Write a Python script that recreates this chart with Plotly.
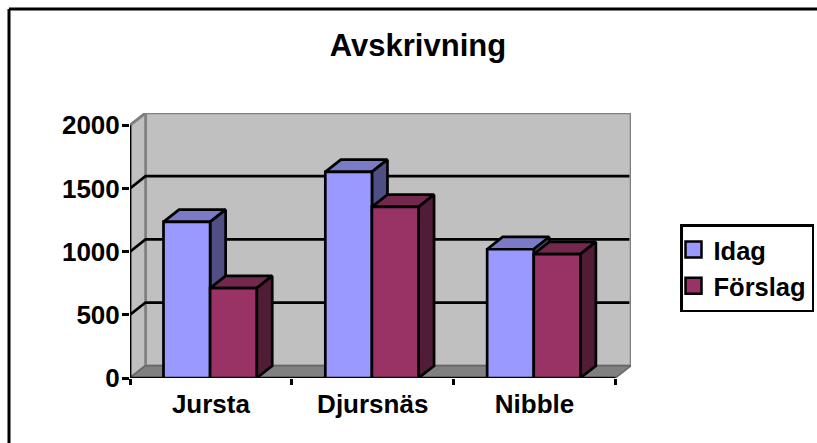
import plotly.graph_objects as go

categories = ["Jursta", "Djursnäs", "Nibble"]
idag = [1235, 1631, 1019]
forslag = [711, 1354, 980]
y_ticks = [0, 500, 1000, 1500, 2000]

DX, DY = 0.096, 97          # depth of the 3D box, in axis units
GAP, W = 0.207, 0.288       # left gap and bar width, in category units
FONT = "Liberation Sans, Arial, sans-serif"
EDGE = dict(color="black", width=2.7)


def polys(faces):
    xs, ys = [], []
    for f in faces:
        xs += [p[0] for p in f] + [f[0][0], None]
        ys += [p[1] for p in f] + [f[0][1], None]
    return xs, ys


fig = go.Figure()


def poly(faces, fill, line):
    x, y = polys(faces)
    fig.add_trace(go.Scatter(x=x, y=y, mode="lines", fill="toself", fillcolor=fill, line=line,
                             showlegend=False, hoverinfo="skip", cliponaxis=False))


def path(x, y, line):
    fig.add_trace(go.Scatter(x=x, y=y, mode="lines", line=line, showlegend=False,
                             hoverinfo="skip", cliponaxis=False))


n = len(categories)
top = y_ticks[-1]
grey = dict(color="#808080", width=2.6)
# walls and floor
poly([[(DX, DY), (n + DX, DY), (n + DX, top + DY), (DX, top + DY)]], "#c0c0c0", grey)
poly([[(0, 0), (DX, DY), (DX, top + DY), (0, top)]], "#c0c0c0", grey)
poly([[(0, 0), (n, 0), (n + DX, DY), (DX, DY)]], "#808080", dict(color="#666666", width=1.5))
# gridlines
for v in y_ticks[1:-1]:
    path([0, DX, n + DX - 0.01], [v, v + DY, v + DY], EDGE)
path([0, DX], [top, top + DY], grey)
path([0, 0], [0, top], EDGE)
path([0, n], [0, 0], EDGE)

# bars
series = [("Idag", idag, 0, "#9999ff", "#7a7ac7", "#4f4f85"),
          ("Förslag", forslag, 1, "#993366", "#75284e", "#501c36")]
for name, vals, k, front, topc, side in series:
    x0s = [i + GAP + k * W for i in range(n)]
    poly([[(x, v), (x + DX, v + DY), (x + W + DX, v + DY), (x + W, v)] for x, v in zip(x0s, vals)], topc, EDGE)
    poly([[(x + W, 0), (x + W + DX, DY), (x + W + DX, v + DY), (x + W, v)] for x, v in zip(x0s, vals)], side, EDGE)
    poly([[(x, 0), (x + W, 0), (x + W, v), (x, v)] for x, v in zip(x0s, vals)], front, EDGE)
    # legend key
    fig.add_trace(go.Scatter(x=[None], y=[None], mode="markers", name=name, showlegend=True,
                             marker=dict(symbol="square", size=16, color=front, line=dict(color="black", width=2.5))))

fig.update_layout(
    width=817, height=443, autosize=False,
    margin=dict(l=130, r=186, t=113, b=65, autoexpand=False),
    paper_bgcolor="white", plot_bgcolor="white",
    font=dict(family=FONT, size=26, color="black"),
    title=dict(text="<b>Avskrivning</b>", x=418 / 817, xanchor="center", y=1 - 45 / 443, yanchor="middle",
               font=dict(size=31, family=FONT)),
    legend=dict(x=550 / 501, xanchor="left", y=154 / 265, yanchor="top", bgcolor="white",
                bordercolor="black", borderwidth=2.5, font=dict(size=25.5, family=FONT, weight="bold"),
                itemwidth=30, traceorder="normal", indentation=-9),
    showlegend=True,
    xaxis=dict(range=[0, n + DX], tickvals=[i + 0.5 for i in range(n)], ticktext=[f"<b>{c}</b>" for c in categories],
               ticks="", showgrid=False, zeroline=False, showline=False, fixedrange=True, ticklabelstandoff=8,
               minor=dict(tickvals=list(range(n + 1)), ticks="outside", ticklen=6, tickwidth=2.5, tickcolor="black", showgrid=False)),
    yaxis=dict(range=[0, top + DY], tickvals=y_ticks, ticktext=[f"<b>{v}</b>" for v in y_ticks],
               ticks="outside", ticklen=7, tickwidth=2.5, tickcolor="black", showgrid=False, zeroline=False,
               showline=False, fixedrange=True, ticklabelstandoff=-3),
    shapes=[
        dict(type="line", xref="paper", yref="paper", x0=-121 / 501, x1=687 / 501, y0=369 / 265, y1=369 / 265,
             line=dict(color="black", width=3)),
        dict(type="line", xref="paper", yref="paper", x0=-121 / 501, x1=-121 / 501, y0=369 / 265, y1=-65 / 265,
             line=dict(color="black", width=3)),
    ],
)
fig.write_html("out.html", config={"displayModeBar": False},
               post_script="document.body.style.margin='0';document.body.style.overflow='hidden';")
